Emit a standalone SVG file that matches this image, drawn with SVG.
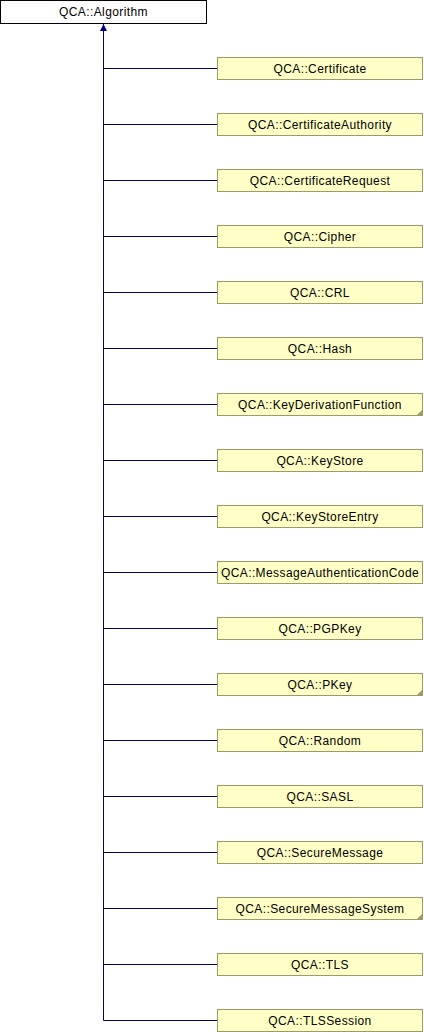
<svg xmlns="http://www.w3.org/2000/svg" width="424" height="1032" viewBox="0 0 424 1032">
<style>
.n rect{fill:#ffffc6;stroke:#9a9a6b;stroke-width:1}
.root rect{fill:#ffffff;stroke:#000000;stroke-width:1}
text{font-family:"Liberation Sans",Arial,sans-serif;font-size:12px;letter-spacing:0.4px;fill:#000000;text-anchor:middle}
.c{stroke:#000080;stroke-width:1;fill:none}
.f{fill:#9a9a6b}
</style>
<defs>
<marker id="ah" markerWidth="8" markerHeight="8" refX="7" refY="3.5" orient="auto" markerUnits="userSpaceOnUse" viewBox="0 0 8 8">
<path d="M0,0 L7,3.5 L0,7 Z" fill="#000080"/>
</marker>
</defs>
<g id="connectors">
<path class="c" d="M103.5,1020.5 V24" marker-end="url(#ah)"/>
<path class="c" d="M103.5,68.5 H217 M103.5,124.5 H217 M103.5,180.5 H217 M103.5,236.5 H217 M103.5,292.5 H217 M103.5,348.5 H217 M103.5,404.5 H217 M103.5,460.5 H217 M103.5,516.5 H217 M103.5,572.5 H217 M103.5,628.5 H217 M103.5,684.5 H217 M103.5,740.5 H217 M103.5,796.5 H217 M103.5,852.5 H217 M103.5,908.5 H217 M103.5,964.5 H217 M103.5,1020.5 H217"/>
</g>
<g id="algorithm" class="root"><rect x="0.5" y="0.5" width="206" height="23"/><text x="103.5" y="16">QCA::Algorithm</text></g>
<g id="certificate" class="n"><rect x="217.5" y="57.5" width="205" height="22"/><text x="320" y="72.5">QCA::Certificate</text></g>
<g id="certificateauthority" class="n"><rect x="217.5" y="113.5" width="205" height="22"/><text x="320" y="128.5">QCA::CertificateAuthority</text></g>
<g id="certificaterequest" class="n"><rect x="217.5" y="169.5" width="205" height="22"/><text x="320" y="184.5">QCA::CertificateRequest</text></g>
<g id="cipher" class="n"><rect x="217.5" y="225.5" width="205" height="22"/><text x="320" y="240.5">QCA::Cipher</text></g>
<g id="crl" class="n"><rect x="217.5" y="281.5" width="205" height="22"/><text x="320" y="296.5">QCA::CRL</text></g>
<g id="hash" class="n"><rect x="217.5" y="337.5" width="205" height="22"/><text x="320" y="352.5">QCA::Hash</text></g>
<g id="keyderivationfunction" class="n"><rect x="217.5" y="393.5" width="205" height="22"/><path class="f" d="M423,409 V416 H416 Z"/><text x="320" y="408.5">QCA::KeyDerivationFunction</text></g>
<g id="keystore" class="n"><rect x="217.5" y="449.5" width="205" height="22"/><text x="320" y="464.5">QCA::KeyStore</text></g>
<g id="keystoreentry" class="n"><rect x="217.5" y="505.5" width="205" height="22"/><text x="320" y="520.5">QCA::KeyStoreEntry</text></g>
<g id="messageauthenticationcode" class="n"><rect x="217.5" y="561.5" width="205" height="22"/><text x="320" y="576.5">QCA::MessageAuthenticationCode</text></g>
<g id="pgpkey" class="n"><rect x="217.5" y="617.5" width="205" height="22"/><text x="320" y="632.5">QCA::PGPKey</text></g>
<g id="pkey" class="n"><rect x="217.5" y="673.5" width="205" height="22"/><path class="f" d="M423,689 V696 H416 Z"/><text x="320" y="688.5">QCA::PKey</text></g>
<g id="random" class="n"><rect x="217.5" y="729.5" width="205" height="22"/><text x="320" y="744.5">QCA::Random</text></g>
<g id="sasl" class="n"><rect x="217.5" y="785.5" width="205" height="22"/><text x="320" y="800.5">QCA::SASL</text></g>
<g id="securemessage" class="n"><rect x="217.5" y="841.5" width="205" height="22"/><text x="320" y="856.5">QCA::SecureMessage</text></g>
<g id="securemessagesystem" class="n"><rect x="217.5" y="897.5" width="205" height="22"/><path class="f" d="M423,913 V920 H416 Z"/><text x="320" y="912.5">QCA::SecureMessageSystem</text></g>
<g id="tls" class="n"><rect x="217.5" y="953.5" width="205" height="22"/><text x="320" y="968.5">QCA::TLS</text></g>
<g id="tlssession" class="n"><rect x="217.5" y="1009.5" width="205" height="22"/><text x="320" y="1024.5">QCA::TLSSession</text></g>
</svg>
